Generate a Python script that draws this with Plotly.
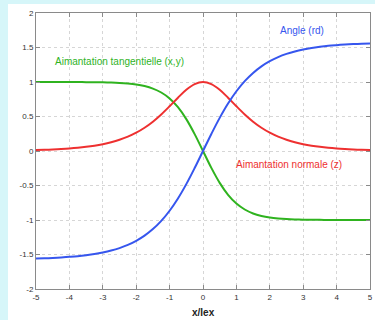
import plotly.graph_objects as go

x_vals = [-5.0, -4.75, -4.5, -4.25, -4.0, -3.75, -3.5, -3.25, -3.0, -2.75, -2.5, -2.25, -2.0, -1.75, -1.5, -1.25, -1.0, -0.75, -0.5, -0.25,
          0.0, 0.25, 0.5, 0.75, 1.0, 1.25, 1.5, 1.75, 2.0, 2.25, 2.5, 2.75, 3.0, 3.25, 3.5, 3.75, 4.0, 4.25, 4.5, 4.75, 5.0]

angle = [-1.557, -1.554, -1.549, -1.542, -1.534, -1.524, -1.510, -1.493, -1.471, -1.443, -1.407, -1.361, -1.302, -1.227, -1.132, -1.013, -0.866, -0.688, -0.480, -0.247,
         0.0, 0.247, 0.480, 0.688, 0.866, 1.013, 1.132, 1.227, 1.302, 1.361, 1.407, 1.443, 1.471, 1.493, 1.510, 1.524, 1.534, 1.542, 1.549, 1.554, 1.557]

tangentielle = [1.000, 1.000, 1.000, 1.000, 0.999, 0.999, 0.998, 0.997, 0.995, 0.992, 0.987, 0.978, 0.964, 0.941, 0.905, 0.848, 0.762, 0.635, 0.462, 0.245,
                0.0, -0.245, -0.462, -0.635, -0.762, -0.848, -0.905, -0.941, -0.964, -0.978, -0.987, -0.992, -0.995, -0.997, -0.998, -0.999, -0.999, -1.000, -1.000, -1.000, -1.000]

normale = [0.0135, 0.0173, 0.0222, 0.0285, 0.0366, 0.0470, 0.0603, 0.0774, 0.0993, 0.1273, 0.1631, 0.2085, 0.2658, 0.3374, 0.4251, 0.5295, 0.6481, 0.7724, 0.8868, 0.9695,
           1.0, 0.9695, 0.8868, 0.7724, 0.6481, 0.5295, 0.4251, 0.3374, 0.2658, 0.2085, 0.1631, 0.1273, 0.0993, 0.0774, 0.0603, 0.0470, 0.0366, 0.0285, 0.0222, 0.0173, 0.0135]

x_ticks = [-5, -4, -3, -2, -1, 0, 1, 2, 3, 4, 5]
y_ticks = [-2, -1.5, -1, -0.5, 0, 0.5, 1, 1.5, 2]

GREEN = "#2fb31f"
BLUE = "#3656ee"
RED = "#ee3030"
CYAN = "#d6f6f9"
FONT = "Liberation Sans, Arial, sans-serif"

fig = go.Figure()
fig.add_trace(go.Scatter(x=x_vals, y=tangentielle, mode="lines", line=dict(color=GREEN, width=2, shape="spline")))
fig.add_trace(go.Scatter(x=x_vals, y=normale, mode="lines", line=dict(color=RED, width=2, shape="spline")))
fig.add_trace(go.Scatter(x=x_vals, y=angle, mode="lines", line=dict(color=BLUE, width=2, shape="spline")))

ann_font = dict(family=FONT, size=10)
fig.add_annotation(x=2.96, y=1.75, text="Angle (rd)", showarrow=False, font=dict(color=BLUE, **ann_font))
fig.add_annotation(x=-2.49, y=1.30, text="Aimantation tangentielle (x,y)", showarrow=False, font=dict(color=GREEN, **ann_font))
fig.add_annotation(x=2.57, y=-0.20, text="Aimantation normale (z)", showarrow=False, font=dict(color=RED, **ann_font))

# x-axis title
fig.add_annotation(x=0, xref="x", y=-0.058, yref="paper", yanchor="top", text="<b>x/lex</b>", showarrow=False,
                   font=dict(family=FONT, size=10, color="#222222"))

# cyan frame strips
fig.add_shape(type="rect", xref="paper", yref="paper", x0=-0.115, x1=-0.0838, y0=-0.2, y1=1.06,
              fillcolor=CYAN, line=dict(width=0), layer="below")
fig.add_shape(type="rect", xref="paper", yref="paper", x0=-0.115, x1=1.03, y0=1.0326, y1=1.06,
              fillcolor=CYAN, line=dict(width=0), layer="below")

axis_common = dict(
    showline=True, linecolor="#8a8a8a", linewidth=1, mirror="ticks",
    ticks="inside", ticklen=4, tickcolor="#8a8a8a",
    showgrid=True, gridcolor="#d6d6d6", griddash="dot", gridwidth=1,
    zeroline=False, automargin=False,
    tickfont=dict(family=FONT, size=8, color="#333333"),
)

fig.update_xaxes(range=[-5, 5], tickvals=x_ticks, ticktext=[str(v) for v in x_ticks], **axis_common)
fig.update_yaxes(range=[-2, 2], tickvals=y_ticks, ticktext=["-2", "-1.5", "-1", "-0.5", "0", "0.5", "1", "1.5", "2"],
                 **axis_common)

fig.update_layout(
    width=375, height=320,
    margin=dict(l=36, r=5, t=13, b=31, autoexpand=False),
    paper_bgcolor="white", plot_bgcolor="white",
    showlegend=False,
)

fig.write_html("out.html", config={"displayModeBar": False},
               post_script="document.body.style.margin='0';document.body.style.overflow='hidden';")
